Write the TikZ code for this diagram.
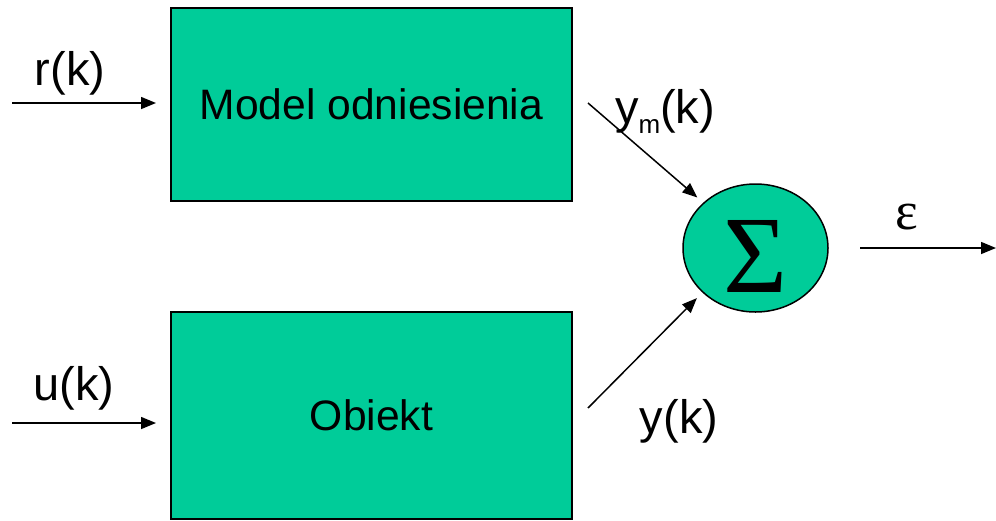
\documentclass[tikz,border=0pt]{standalone}
\usepackage{fontspec}
\setmainfont{Liberation Sans}
\newfontfamily\seriffam{Liberation Serif}
\usetikzlibrary{arrows.meta,shapes.geometric}
\definecolor{boxgreen}{RGB}{0,204,153}
\tikzset{
  blockbox/.style={draw=black, line width=1pt, fill=boxgreen, inner sep=0pt,
    minimum width=200.5pt, minimum height=100pt, font=\fontsize{21.3}{24}\selectfont},
  sigline/.style={draw=black, line width=0.75pt, -{Triangle[length=7.5pt,width=6pt]}},
  lbl/.style={font=\fontsize{23.5}{26}\selectfont, inner sep=0pt, anchor=base}
}
\begin{document}
\begin{tikzpicture}[x=0.5pt,y=-0.5pt]
\useasboundingbox (0,0) rectangle (996,520);
\node[blockbox, minimum height=96.5pt] (model) at (371.5,104.5) {Model odniesienia};
\node[blockbox, minimum height=103.5pt] (obj) at (371.5,415.5) {Obiekt};
\node[ellipse, draw=black, line width=0.75pt, fill=boxgreen, inner sep=0pt,
  minimum width=72.5pt, minimum height=64pt] (sum) at (755.5,248) {};
\node[font=\seriffam\fontsize{55}{55}\selectfont, inner sep=0pt] (sigma) at (755.5,256) {Σ};
% inputs
\coordinate (rin) at (12,103);
\coordinate (uin) at (12,423);
\draw[sigline, shorten >=7pt] (rin) -- (rin -| model.west);
\draw[sigline, shorten >=7pt] (uin) -- (uin -| obj.west);
\node[lbl] (rlab) at (70,85) {r(k)};
\node[lbl] (ulab) at (74,400) {u(k)};
% to summer
\coordinate (ymfrom) at (588,103);
\coordinate (yfrom) at (588,408);
\draw[sigline, shorten >=3.9pt] (ymfrom) -- (sum.139);
\draw[sigline, shorten >=3.9pt] (yfrom) -- (sum.220);
\node[lbl] (ymlab) at (665,123) {y\raisebox{-0.22em}{\fontsize{13}{13}\selectfont m}(k)};
\node[lbl] (ylab) at (679,433) {y(k)};
% output
\coordinate (eout) at (996,248);
\coordinate (efrom) at (860,248);
\draw[sigline] (efrom) -- (eout);
\node[font=\seriffam\fontsize{27}{27}\selectfont, inner sep=0pt] (eps) at (907,217) {ε};
\end{tikzpicture}
\end{document}
